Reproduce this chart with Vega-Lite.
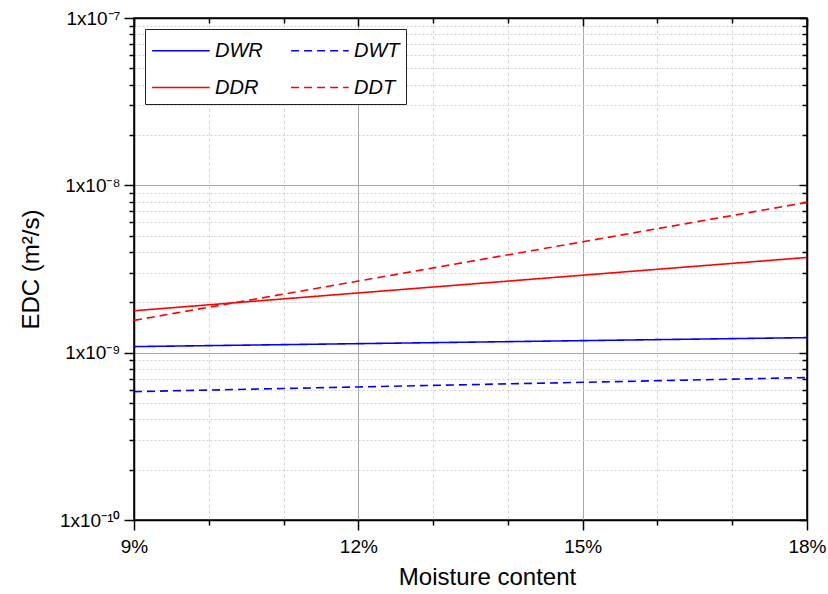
{
  "$schema": "https://vega.github.io/schema/vega-lite/v6.json",
  "width": 673,
  "height": 502,
  "autosize": {"type": "none"},
  "padding": {"left": 134, "top": 18, "right": 21, "bottom": 74},
  "background": "white",
  "config": {
    "font": "Liberation Sans",
    "view": {"stroke": "#000", "strokeWidth": 1.5},
    "legend": {
      "orient": "none",
      "legendX": 11,
      "legendY": 11,
      "columns": 2,
      "symbolType": "M-1,0L3,0",
      "symbolSize": 830,
      "symbolStrokeWidth": 1.6,
      "labelFontSize": 20,
      "labelFontStyle": "italic",
      "labelColor": "#000",
      "labelOffset": 33,
      "columnPadding": 24,
      "rowPadding": 11,
      "padding": 6,
      "strokeColor": "#222",
      "fillColor": "white"
    }
  },
  "data": {
    "values": [
      {"mc": 0.09, "edc": 1.087e-9, "series": "DWR"},
      {"mc": 0.12, "edc": 1.132e-9, "series": "DWR"},
      {"mc": 0.15, "edc": 1.180e-9, "series": "DWR"},
      {"mc": 0.18, "edc": 1.230e-9, "series": "DWR"},
      {"mc": 0.09, "edc": 0.585e-9, "series": "DWT"},
      {"mc": 0.12, "edc": 0.624e-9, "series": "DWT"},
      {"mc": 0.15, "edc": 0.665e-9, "series": "DWT"},
      {"mc": 0.18, "edc": 0.710e-9, "series": "DWT"},
      {"mc": 0.09, "edc": 1.78e-9, "series": "DDR"},
      {"mc": 0.12, "edc": 2.275e-9, "series": "DDR"},
      {"mc": 0.15, "edc": 2.904e-9, "series": "DDR"},
      {"mc": 0.18, "edc": 3.707e-9, "series": "DDR"},
      {"mc": 0.09, "edc": 1.56e-9, "series": "DDT"},
      {"mc": 0.12, "edc": 2.68e-9, "series": "DDT"},
      {"mc": 0.15, "edc": 4.60e-9, "series": "DDT"},
      {"mc": 0.18, "edc": 7.91e-9, "series": "DDT"}
    ]
  },
  "layer": [
    {
      "mark": {"type": "line", "strokeWidth": 1.6},
      "encoding": {
        "x": {
          "field": "mc",
          "type": "quantitative",
          "scale": {"domain": [0.09, 0.18], "nice": false, "zero": false},
          "axis": {
            "orient": "bottom",
            "values": [0.09, 0.10, 0.11, 0.12, 0.13, 0.14, 0.15, 0.16, 0.17, 0.18],
            "labelExpr": "round(datum.value*100) % 3 == 0 ? round(datum.value*100) + '%' : ''",
            "labelFlush": false,
            "labelOverlap": false,
            "labelFontSize": 19,
            "labelColor": "#000",
            "labelPadding": 7,
            "tickSize": {"condition": {"test": "round(datum.value*100) % 3 == 0", "value": 10}, "value": 5},
            "tickColor": "#000",
            "tickWidth": 1.5,
            "domainColor": "#000",
            "domainWidth": 1.5,
            "grid": true,
            "gridColor": {"condition": {"test": "round(datum.value*100) % 3 == 0", "value": "#a8a8a8"}, "value": "#d2d2d2"},
            "gridDash": {"condition": {"test": "round(datum.value*100) % 3 == 0", "value": []}, "value": [3, 3]},
            "gridWidth": 1,
            "title": "Moisture content",
            "titleFontSize": 24,
            "titleFontWeight": "normal",
            "titleColor": "#000",
            "titlePadding": 9,
            "titleX": 353
          }
        },
        "y": {
          "field": "edc",
          "type": "quantitative",
          "scale": {"type": "log", "domain": [1e-10, 1e-7], "nice": false},
          "axis": {
            "orient": "left",
            "values": [1e-10, 2e-10, 3e-10, 4e-10, 5e-10, 6e-10, 7e-10, 8e-10, 9e-10, 1e-9, 2e-9, 3e-9, 4e-9, 5e-9, 6e-9, 7e-9, 8e-9, 9e-9, 1e-8, 2e-8, 3e-8, 4e-8, 5e-8, 6e-8, 7e-8, 8e-8, 9e-8, 1e-7],
            "labelExpr": "abs(log(datum.value)/LN10 - round(log(datum.value)/LN10)) < 0.001 ? (round(log(datum.value)/LN10) == -7 ? '1x10⁻⁷' : round(log(datum.value)/LN10) == -8 ? '1x10⁻⁸' : round(log(datum.value)/LN10) == -9 ? '1x10⁻⁹' : '1x10⁻¹⁰') : ''",
            "labelOverlap": false,
            "labelFlush": false,
            "labelFontSize": 19,
            "labelColor": "#000",
            "labelPadding": 4,
            "tickSize": {"condition": {"test": "abs(log(datum.value)/LN10 - round(log(datum.value)/LN10)) < 0.001", "value": 10}, "value": 5},
            "tickColor": "#000",
            "tickWidth": 1.5,
            "domainColor": "#000",
            "domainWidth": 1.5,
            "grid": true,
            "gridColor": {"condition": {"test": "abs(log(datum.value)/LN10 - round(log(datum.value)/LN10)) < 0.001", "value": "#a8a8a8"}, "value": "#d2d2d2"},
            "gridDash": {"condition": {"test": "abs(log(datum.value)/LN10 - round(log(datum.value)/LN10)) < 0.001", "value": []}, "value": [2, 2]},
            "gridWidth": 1,
            "title": "EDC (m²/s)",
            "titleFontSize": 24,
            "titleFontWeight": "normal",
            "titleColor": "#000",
            "titlePadding": 16
          }
        },
        "color": {
          "field": "series",
          "type": "nominal",
          "scale": {"domain": ["DWR", "DDR", "DWT", "DDT"], "range": ["#0000ff", "#ff0000", "#0000ff", "#ff0000"]},
          "legend": {"title": null}
        },
        "strokeDash": {
          "field": "series",
          "type": "nominal",
          "scale": {"domain": ["DWR", "DDR", "DWT", "DDT"], "range": [[1, 0], [1, 0], [8, 5], [8, 5]]},
          "legend": {"title": null}
        }
      }
    },
    {
      "mark": {"type": "line", "opacity": 0},
      "encoding": {
        "x": {
          "field": "mc",
          "type": "quantitative",
          "scale": {"domain": [0.09, 0.18], "nice": false, "zero": false},
          "axis": {
            "orient": "top",
            "values": [0.09, 0.10, 0.11, 0.12, 0.13, 0.14, 0.15, 0.16, 0.17, 0.18],
            "labels": false,
            "grid": false,
            "title": null,
            "tickSize": {"condition": {"test": "round(datum.value*100) % 3 == 0", "value": -8}, "value": -5},
            "tickColor": "#000",
            "tickWidth": 1.5,
            "domainColor": "#000",
            "domainWidth": 1.5
          }
        },
        "y": {
          "field": "edc",
          "type": "quantitative",
          "scale": {"type": "log", "domain": [1e-10, 1e-7], "nice": false},
          "axis": {
            "orient": "right",
            "values": [1e-10, 2e-10, 3e-10, 4e-10, 5e-10, 6e-10, 7e-10, 8e-10, 9e-10, 1e-9, 2e-9, 3e-9, 4e-9, 5e-9, 6e-9, 7e-9, 8e-9, 9e-9, 1e-8, 2e-8, 3e-8, 4e-8, 5e-8, 6e-8, 7e-8, 8e-8, 9e-8, 1e-7],
            "labels": false,
            "grid": false,
            "title": null,
            "tickSize": {"condition": {"test": "abs(log(datum.value)/LN10 - round(log(datum.value)/LN10)) < 0.001", "value": -8}, "value": -5},
            "tickColor": "#000",
            "tickWidth": 1.5,
            "domainColor": "#000",
            "domainWidth": 1.5
          }
        },
        "detail": {"field": "series", "type": "nominal"}
      }
    }
  ],
  "resolve": {"axis": {"x": "independent", "y": "independent"}}
}
